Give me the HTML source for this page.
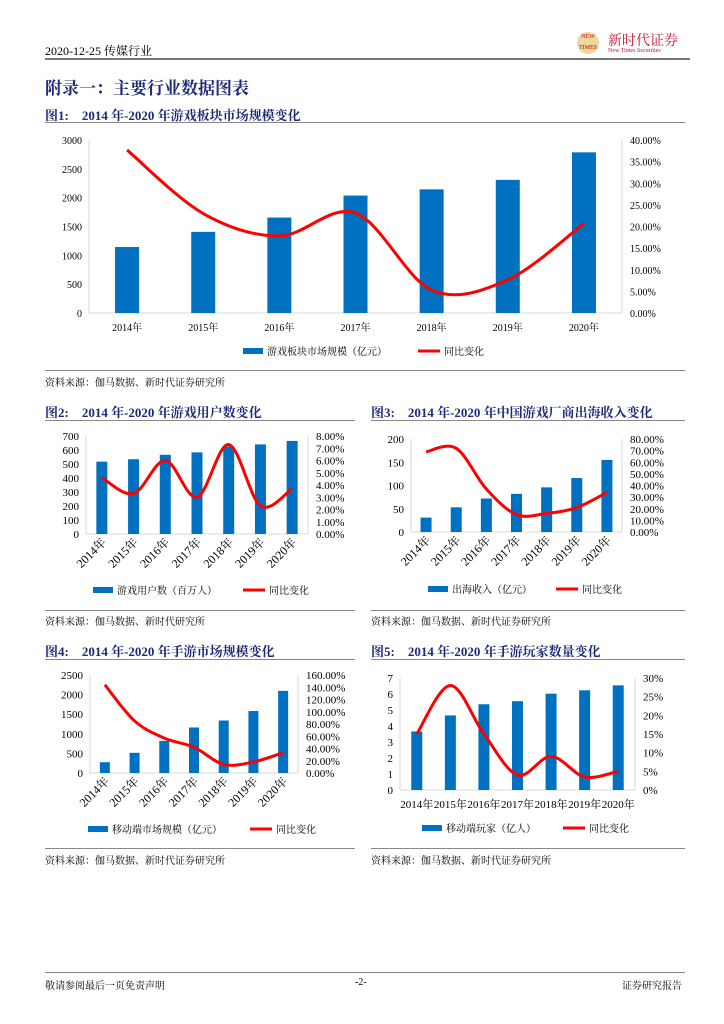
<!DOCTYPE html>
<html><head><meta charset="utf-8">
<style>
body{margin:0;background:#fff;width:724px;height:1024px;position:relative;overflow:hidden;font-family:"Liberation Serif","Noto Serif CJK SC",serif;color:#000}
.a{position:absolute;white-space:nowrap}
.rule{position:absolute;height:0;border-top:1px solid #888}
.ft{position:absolute;font-weight:bold;font-size:13px;color:#1d2a78;font-family:"Liberation Serif","Noto Serif CJK SC",serif}
.src{position:absolute;font-size:10px;font-family:"Liberation Serif","Noto Serif CJK SC",serif}
svg text{font-family:"Liberation Serif","Noto Serif CJK SC",serif}
</style></head><body>
<div class="a" style="left:45px;top:42px;font-size:12px">2020-12-25 传媒行业</div>
<div class="a" style="left:577px;top:32px;width:22px;height:22px;border-radius:50%;background:#e9d9a0;font-size:6px;color:#c00;text-align:center;line-height:11px">NEW<br>TIMES</div>
<div class="a" style="left:608px;top:30px;font-size:14px;color:#c8102e">新时代证券</div>
<div class="a" style="left:608px;top:48px;font-size:6px;color:#c8102e">New Times Securities</div>
<div class="rule" style="left:45px;top:58px;width:645px;border-top:2px solid #777"></div>
<div class="a" style="left:45px;top:74px;font-size:17px;font-weight:bold;color:#1d2a78">附录一：主要行业数据图表</div>

<div class="ft" style="left:45px;top:105px">图1:&nbsp;&nbsp;&nbsp; 2014 年-2020 年游戏板块市场规模变化</div>
<div class="rule" style="left:45px;top:122px;width:640px"></div>
<div class="rule" style="left:45px;top:370px;width:640px"></div>
<div class="src" style="left:45px;top:374px">资料来源：伽马数据、新时代证券研究所</div>

<div class="ft" style="left:45px;top:402px">图2:&nbsp;&nbsp;&nbsp; 2014 年-2020 年游戏用户数变化</div>
<div class="rule" style="left:45px;top:420px;width:310px"></div>
<div class="rule" style="left:45px;top:610px;width:310px"></div>
<div class="src" style="left:45px;top:613px">资料来源：伽马数据、新时代研究所</div>

<div class="ft" style="left:371px;top:402px">图3:&nbsp;&nbsp;&nbsp; 2014 年-2020 年中国游戏厂商出海收入变化</div>
<div class="rule" style="left:371px;top:420px;width:314px"></div>
<div class="rule" style="left:371px;top:610px;width:314px"></div>
<div class="src" style="left:371px;top:613px">资料来源：伽马数据、新时代证券研究所</div>

<div class="ft" style="left:45px;top:641px">图4:&nbsp;&nbsp;&nbsp; 2014 年-2020 年手游市场规模变化</div>
<div class="rule" style="left:45px;top:659px;width:310px"></div>
<div class="rule" style="left:45px;top:848px;width:310px"></div>
<div class="src" style="left:45px;top:852px">资料来源：伽马数据、新时代证券研究所</div>

<div class="ft" style="left:371px;top:641px">图5:&nbsp;&nbsp;&nbsp; 2014 年-2020 年手游玩家数量变化</div>
<div class="rule" style="left:371px;top:659px;width:314px"></div>
<div class="rule" style="left:371px;top:848px;width:314px"></div>
<div class="src" style="left:371px;top:852px">资料来源：伽马数据、新时代证券研究所</div>

<div class="rule" style="left:45px;top:972px;width:640px"></div>
<div class="src" style="left:45px;top:977px">敬请参阅最后一页免责声明</div>
<div class="src" style="left:355px;top:977px">-2-</div>
<div class="src" style="left:622px;top:977px">证券研究报告</div>

<svg id="svg" width="724" height="1024" style="position:absolute;left:0;top:0"></svg>

<script>
const years=["2014年","2015年","2016年","2017年","2018年","2019年","2020年"];
const c1Bars=[1144,1407,1655,2036,2144,2309,2786];
const c1Growth=[37.7,23.0,17.8,23.1,5.3,7.7,20.7];
const c1LeftTicks=[0,500,1000,1500,2000,2500,3000];
const c1RightTicks=[0,5,10,15,20,25,30,35,40];
const c2Bars=[517,534,566,583,626,640,665];
const c2Growth=[4.6,3.3,6.0,3.0,7.3,2.3,3.7];
const c2LeftTicks=[0,100,200,300,400,500,600,700];
const c2RightTicks=[0,1,2,3,4,5,6,7,8];
const c3Bars=[31,53,72,82,96,116,155];
const c3Growth=[69,72,37,15,16,21,34];
const c3LeftTicks=[0,50,100,150,200];
const c3RightTicks=[0,10,20,30,40,50,60,70,80];
const c4Bars=[275,515,819,1161,1339,1581,2096];
const c4Growth=[144,85,57,42,14,18,33];
const c4LeftTicks=[0,500,1000,1500,2000,2500];
const c4RightTicks=[0,20,40,60,80,100,120,140,160];
const c5Bars=[3.66,4.66,5.36,5.55,6.02,6.23,6.54];
const c5Growth=[15,28,15,4,9,3.5,5];
const c5LeftTicks=[0,1,2,3,4,5,6,7];
const c5RightTicks=[0,5,10,15,20,25,30];

const NS="http://www.w3.org/2000/svg";
const svg=document.getElementById('svg');
function mk(tag,at,txt){const e=document.createElementNS(NS,tag);for(const k in at)e.setAttribute(k,at[k]);if(txt!==undefined)e.textContent=txt;svg.appendChild(e);return e;}
function smooth(p){let d="M"+p[0][0]+","+p[0][1];for(let i=0;i<p.length-1;i++){const p0=p[i-1]||p[i],p1=p[i],p2=p[i+1],p3=p[i+2]||p2;const t=6;d+=" C"+(p1[0]+(p2[0]-p0[0])/t)+","+(p1[1]+(p2[1]-p0[1])/t)+" "+(p2[0]-(p3[0]-p1[0])/t)+","+(p2[1]-(p3[1]-p1[1])/t)+" "+p2[0]+","+p2[1];}return d;}

function chart(o,id,bars,growth,lt,rt){
  const lmax=lt[lt.length-1],rmax=rt[rt.length-1];
  const y=v=>o.y0-(v/lmax)*(o.y0-o.y1);
  const yr=v=>o.y0-(v/rmax)*(o.y0-o.y1);
  const cw=(o.x1-o.x0)/years.length;
  const x=i=>o.x0+cw*(i+0.5);
  let e=mk('line',{x1:o.x0,y1:o.y1,x2:o.x0,y2:o.y0,stroke:'#d9d9d9'});
  
  e=mk('line',{x1:o.x1,y1:o.y1,x2:o.x1,y2:o.y0,stroke:'#d9d9d9'});
  
  e=mk('line',{x1:o.x0,y1:o.y0,x2:o.x1,y2:o.y0,stroke:'#d9d9d9'});
  
  lt.forEach(v=>{e=mk('text',{x:o.x0-7,y:y(v)+4,'font-size':o.fs,'text-anchor':'end'},v);
    });
  rt.forEach(v=>{e=mk('text',{x:o.x1+8,y:yr(v)+4,'font-size':o.fs,'textLength':o.rtl?o.rtl(v):undefined},o.pct(v));
    if(!o.rtl)e.removeAttribute('textLength');
    });
  bars.forEach((v,i)=>{e=mk('rect',{x:x(i)-o.bw/2,y:y(v),width:o.bw,height:o.y0-y(v),fill:'#0070c0'});
    });
  years.forEach((t,i)=>{
    if(o.rot){e=mk('text',{x:x(i)+5,y:o.y0+9,'font-size':o.xfs,'text-anchor':'end',transform:'rotate(-45 '+(x(i)+5)+' '+(o.y0+9)+')'},t);}
    else{e=mk('text',{x:x(i),y:o.y0+o.xl,'font-size':o.xfs,'text-anchor':'middle'},t);}
    });
  e=mk('path',{d:smooth(growth.map((v,i)=>[x(i),yr(v)])),fill:'none',stroke:'#ff0000','stroke-width':o.lw});
  
  e=mk('rect',{x:o.lg[0],y:o.lg[2]-3,width:20,height:6,fill:'#0070c0'});
  
  e=mk('text',{x:o.lg[0]+24,y:o.lg[2]+4,'font-size':10},o.name);
  
  e=mk('line',{x1:o.lg[1],y1:o.lg[2],x2:o.lg[1]+22,y2:o.lg[2],stroke:'#ff0000','stroke-width':3});
  
  e=mk('text',{x:o.lg[1]+26,y:o.lg[2]+4,'font-size':10},'同比变化');
  
}
const p2=v=>v.toFixed(2)+'%';
chart({x0:89,x1:622,y0:313,y1:140,bw:24,fs:10,xfs:10,lw:3,pct:p2,xl:18,lg:[243,418,351],name:'游戏板块市场规模（亿元）'},'chart1',c1Bars,c1Growth,c1LeftTicks,c1RightTicks);
chart({x0:86,x1:308,y0:534,y1:436,bw:11,fs:11,xfs:12,lw:3,pct:p2,rot:true,lg:[93,243,590],name:'游戏用户数（百万人）'},'chart2',c2Bars,c2Growth,c2LeftTicks,c2RightTicks);
chart({x0:411,x1:622,y0:532,y1:439,bw:11,fs:11,xfs:12,lw:3,pct:p2,rot:true,lg:[428,556,589],name:'出海收入（亿元）'},'chart3',c3Bars,c3Growth,c3LeftTicks,c3RightTicks);
chart({x0:90,x1:298,y0:773,y1:675,bw:10,fs:11,xfs:12,lw:3,pct:p2,rot:true,lg:[88,250,829],name:'移动端市场规模（亿元）'},'chart4',c4Bars,c4Growth,c4LeftTicks,c4RightTicks);
chart({x0:400,x1:635,y0:790,y1:678,bw:11,fs:11,xfs:11,lw:3,pct:v=>v+'%',xl:18,lg:[422,563,828],name:'移动端玩家（亿人）'},'chart5',c5Bars,c5Growth,c5LeftTicks,c5RightTicks);
</script>
</body></html>
